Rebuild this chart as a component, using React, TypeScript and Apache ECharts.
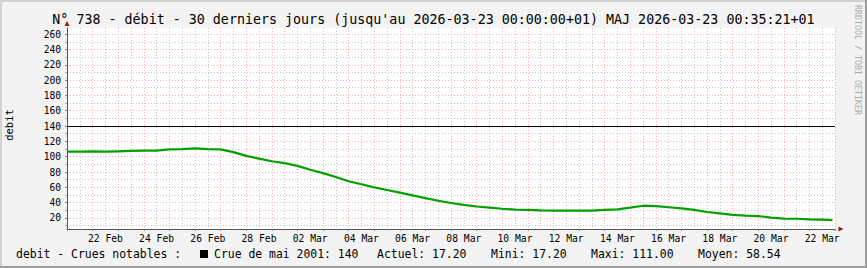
import React, { useEffect, useRef } from "react";
import * as echarts from "echarts";

// ---- data ----
const START_UTC = Date.UTC(2026, 1, 21); // 21 Feb 2026 00:00 (+01)
const MONTHS = ["Jan", "Feb", "Mar", "Apr", "May", "Jun", "Jul", "Aug", "Sep", "Oct", "Nov", "Dec"];

// day offsets from START (half-day sampling)
const days = [
  0, 0.5, 1, 1.5, 2, 2.5, 3, 3.5, 4, 4.5, 5, 5.5, 6, 6.5, 7, 7.5, 8, 8.5, 9, 9.5,
  10, 10.5, 11, 11.5, 12, 12.5, 13, 13.5, 14, 14.5, 15, 15.5, 16, 16.5, 17, 17.5,
  18, 18.5, 19, 19.5, 20, 20.5, 21, 21.5, 22, 22.5, 23, 23.5, 24, 24.5, 25, 25.5,
  26, 26.5, 27, 27.5, 28, 28.5, 29, 29.5, 29.9,
];
const debit = [
  106.5, 106.5, 107, 106.5, 107, 107.5, 108, 108, 109.5, 110, 110.8, 110, 109.5, 106, 101, 97.5, 94, 91.5, 88, 83,
  78.5, 73.5, 68, 64, 60, 56.5, 53, 49.5, 46, 42.5, 39.5, 37, 35, 33.5, 32, 31,
  30.5, 29.8, 29.5, 29.5, 29.5, 29.5, 30.5, 31.3, 33.5, 36, 35.5, 34, 32.5, 30.5, 27.8, 26,
  24, 23, 22.5, 20.5, 19.2, 19, 18.2, 17.8, 17.2,
];
const crueValue = 140;

const yMajorTicks = [20, 40, 60, 80, 100, 120, 140, 160, 180, 200, 220, 240, 260];
const yMinorTicks = [10, 30, 50, 70, 90, 110, 130, 150, 170, 190, 210, 230, 250];
const xLabelDays = [1.5, 3.5, 5.5, 7.5, 9.5, 11.5, 13.5, 15.5, 17.5, 19.5, 21.5, 23.5, 25.5, 27.5, 29.5];

const titleText = "N° 738 - débit - 30 derniers jours (jusqu'au 2026-03-23 00:00:00+01) MAJ 2026-03-23 00:35:21+01";
const legendLead = "debit - Crues notables :";
const legendItems = [
  { text: "Crue de mai 2001: 140", x: 214 },
  { text: "Actuel: 17.20", x: 377 },
  { text: "Mini: 17.20", x: 491 },
  { text: "Maxi: 111.00", x: 591 },
  { text: "Moyen: 58.54", x: 698 },
];

const MONO = "DejaVu Sans Mono";

function dayLabel(v: number): string {
  const d = new Date(START_UTC + Math.floor(v) * 86400000);
  const dd = d.getUTCDate();
  return (dd < 10 ? "0" + dd : "" + dd) + " " + MONTHS[d.getUTCMonth()];
}

export default function App() {
  const ref = useRef<HTMLDivElement>(null);

  useEffect(() => {
    if (!ref.current) return;
    const chart = echarts.init(ref.current, null, { renderer: "svg" });
    const W = 867;
    const H = 268;
    const left = 67;
    const right = 835;
    const top = 28;
    const bottom = 229;

    const gridPink = "rgba(255,110,110,0.55)";
    const gridGray = "rgba(160,160,160,0.6)";

    chart.setOption({
      animation: false,
      backgroundColor: "#f3f3f3",
      grid: {
        left: left,
        right: W - right,
        top: top,
        bottom: H - bottom,
        show: true,
        backgroundColor: "#ffffff",
        borderWidth: 0,
      },
      xAxis: {
        type: "value",
        min: 0,
        max: 30,
        interval: 1,
        axisLine: { show: true, onZero: false, lineStyle: { color: "#555", width: 1 } },
        axisTick: { show: true, length: 2, lineStyle: { color: "#888" } },
        minorTick: { show: false, splitNumber: 2 },
        axisLabel: {
          customValues: xLabelDays,
          formatter: (v: number) => dayLabel(v),
          fontFamily: MONO,
          fontSize: 9.7,
          color: "#000",
          margin: 4,
        },
        splitLine: { show: true, lineStyle: { color: gridPink, width: 1, type: [1, 2] } },
        minorSplitLine: { show: true, lineStyle: { color: gridGray, width: 1, type: [1, 2] } },
      },
      yAxis: [
        {
          type: "value",
          min: 5.6,
          max: 268,
          position: "left",
          axisLine: { show: true, lineStyle: { color: "#555", width: 1 } },
          axisTick: { show: true, length: 2, customValues: yMajorTicks, lineStyle: { color: "#888" } },
          axisLabel: {
            customValues: yMajorTicks,
            fontFamily: MONO,
            fontSize: 9.6,
            color: "#000",
            margin: 6,
          },
          splitLine: { show: true, lineStyle: { color: gridPink, width: 1, type: [1, 2] } },
        },
        {
          type: "value",
          min: 5.6,
          max: 268,
          position: "left",
          axisLine: { show: false },
          axisTick: { show: true, length: 2, customValues: yMinorTicks, lineStyle: { color: "#aaa" } },
          axisLabel: { show: false },
          splitLine: { show: true, lineStyle: { color: gridGray, width: 1, type: [1, 2] } },
        },
      ],
      series: [
        {
          type: "line",
          xAxisIndex: 0,
          yAxisIndex: 0,
          data: days.map((d, i) => [d, debit[i]]),
          showSymbol: false,
          symbol: "none",
          lineStyle: { color: "#00a000", width: 2.2 },
          z: 3,
          markLine: {
            silent: true,
            symbol: "none",
            label: { show: false },
            lineStyle: { color: "#000", width: 1, type: "solid" },
            data: [{ yAxis: crueValue }],
          },
        },
      ],
      graphic: [
        // frame
        { type: "rect", shape: { x: 0, y: 0, width: W, height: 2 }, style: { fill: "#d2d2d2" }, silent: true },
        { type: "rect", shape: { x: 0, y: 0, width: 2, height: H }, style: { fill: "#d2d2d2" }, silent: true },
        { type: "rect", shape: { x: 0, y: H - 2, width: W, height: 2 }, style: { fill: "#9c9c9c" }, silent: true },
        { type: "rect", shape: { x: W - 2, y: 0, width: 2, height: H }, style: { fill: "#9c9c9c" }, silent: true },
        // axis arrows
        {
          type: "polygon",
          shape: { points: [[64.5, 26], [69.5, 26], [67, 21]] },
          style: { fill: "#a01818" },
          silent: true,
        },
        {
          type: "polygon",
          shape: { points: [[838.5, 226.5], [838.5, 231.5], [843.5, 229]] },
          style: { fill: "#a01818" },
          silent: true,
        },
        // title
        {
          type: "text",
          x: W / 2,
          y: 19,
          style: {
            text: titleText,
            fontFamily: MONO,
            fontSize: 13.33,
            fill: "#000",
            textAlign: "center",
            textVerticalAlign: "middle",
          },
          silent: true,
        },
        // vertical axis unit
        {
          type: "text",
          x: 9,
          y: 125,
          rotation: Math.PI / 2,
          style: {
            text: "debit",
            fontFamily: MONO,
            fontSize: 10.5,
            fill: "#000",
            textAlign: "center",
            textVerticalAlign: "middle",
          },
          silent: true,
        },
        // watermark
        {
          type: "text",
          x: 857.5,
          y: 60,
          rotation: -Math.PI / 2,
          style: {
            text: "RRDTOOL / TOBI OETIKER",
            fontFamily: MONO,
            fontSize: 8.3,
            fill: "#ababab",
            textAlign: "center",
            textVerticalAlign: "middle",
          },
          silent: true,
        },
        // legend line
        {
          type: "text",
          x: 16,
          y: 254,
          style: {
            text: legendLead,
            fontFamily: MONO,
            fontSize: 11.43,
            fill: "#000",
            textAlign: "left",
            textVerticalAlign: "middle",
          },
          silent: true,
        },
        { type: "rect", shape: { x: 200, y: 250, width: 8, height: 8 }, style: { fill: "#000" }, silent: true },
        ...legendItems.map((it) => ({
          type: "text",
          x: it.x,
          y: 254,
          style: {
            text: it.text,
            fontFamily: MONO,
            fontSize: 11.43,
            fill: "#000",
            textAlign: "left",
            textVerticalAlign: "middle",
          },
          silent: true,
        })),
      ],
    });

    return () => {
      chart.dispose();
    };
  }, []);

  return (
    <div
      ref={ref}
      style={{ position: "fixed", left: 0, top: 0, width: 867, height: 268 }}
    />
  );
}
